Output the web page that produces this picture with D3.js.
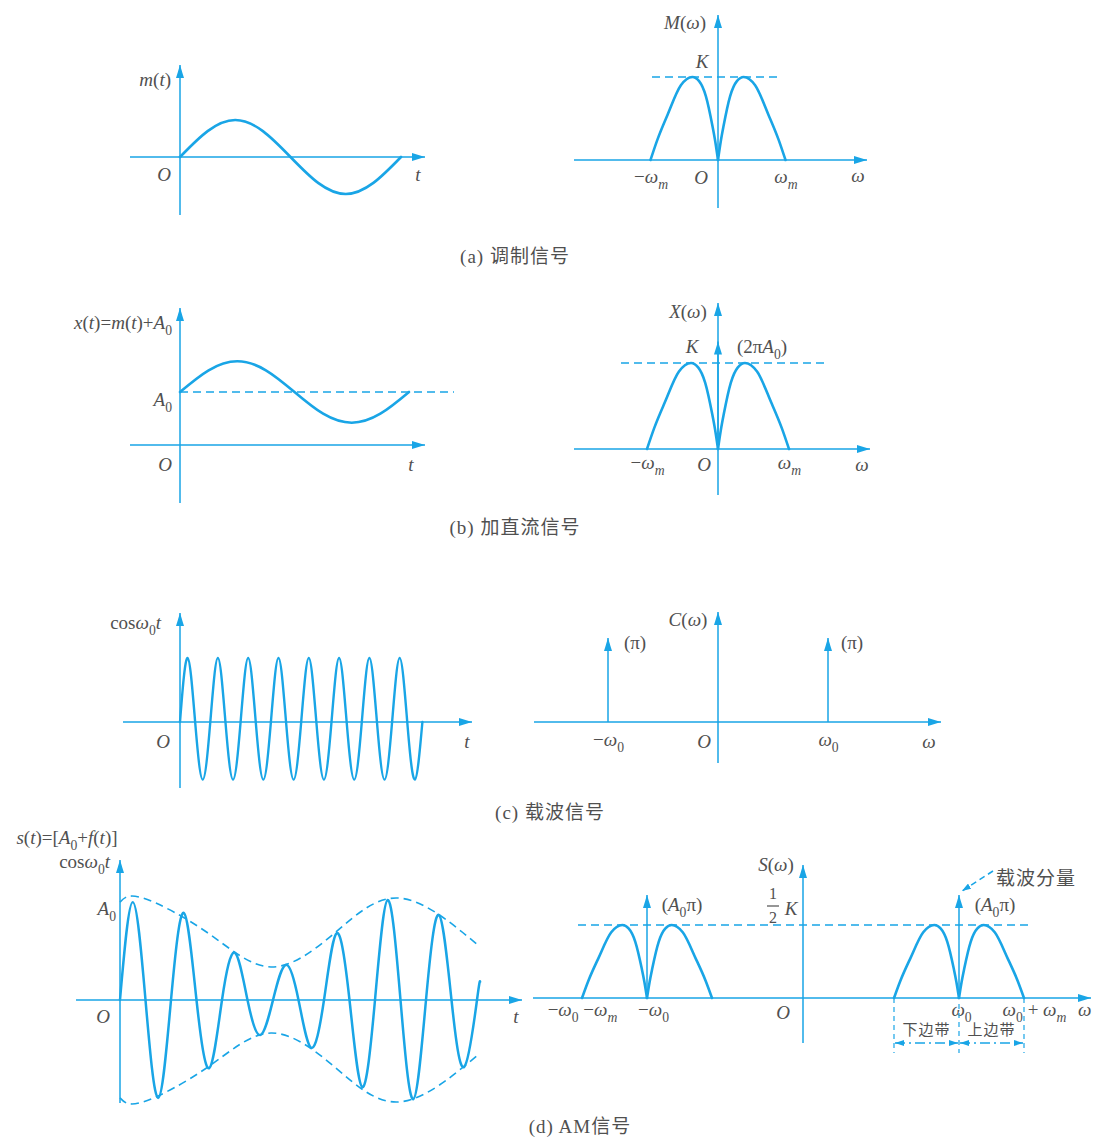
<!DOCTYPE html>
<html>
<head>
<meta charset="utf-8">
<script src="https://cdn.jsdelivr.net/npm/d3@7"></script>
<style>
  body { margin: 0; background: #fff; }
  svg { display: block; }
</style>
</head>
<body>
<svg id="fig" width="1093" height="1137"></svg>
<script>
// ---------------- signal data ----------------
// (a) modulating signal m(t): one period, t in periods, amplitude normalised
const modT = [0, 0.125, 0.25, 0.375, 0.5, 0.625, 0.75, 0.875, 1];
const modV = [0, 0.7, 1, 0.7, 0, -0.7, -1, -0.7, 0];

// (b) x(t) = m(t) + A0, amplitude in units of A0
const dcT = [0, 0.125, 0.25, 0.375, 0.5, 0.625, 0.75, 0.875, 1];
const dcV = [1, 1.41, 1.58, 1.41, 1, 0.59, 0.42, 0.59, 1];

// (c) carrier cos(w0 t): eight cycles, t in carrier periods
const carT = [0, 0.25, 0.5, 0.75, 1, 1.25, 1.5, 1.75, 2, 2.25, 2.5, 2.75, 3, 3.25, 3.5, 3.75,
              4, 4.25, 4.5, 4.75, 5, 5.25, 5.5, 5.75, 6, 6.25, 6.5, 6.75, 7, 7.25, 7.5, 7.75, 8];
const carV = [0, 1, 0, -0.9, 0, 1, 0, -0.9, 0, 1, 0, -0.9, 0, 1, 0, -0.9,
              0, 1, 0, -0.9, 0, 1, 0, -0.9, 0, 1, 0, -0.9, 0, 1, 0, -0.9, 0];

// (d) AM waveform: t in carrier periods, amplitude in units of A0
const amT = [0, 0.25, 0.5, 0.75, 1, 1.25, 1.5, 1.75, 2, 2.25, 2.5, 2.75, 3, 3.25, 3.5,
             3.75, 4, 4.25, 4.5, 4.75, 5, 5.25, 5.5, 5.75, 6, 6.25, 6.5, 6.75, 7, 7.06];
const amV = [0, 1.45, 0, -1.45, 0, 1.29, 0, -1.01, 0, 0.70, 0, -0.52, 0, 0.52, 0,
             -0.71, 0, 0.99, 0, -1.29, 0, 1.48, 0, -1.47, 0, 1.26, 0, -0.99, 0, 0.27];
// envelope A0 + m(t)
const envT = [0, 0.45, 1.71, 2.96, 4.22, 5.47, 6.72, 7.04];
const envV = [1.45, 1.51, 1.0, 0.49, 1.0, 1.51, 1.0, 0.80];

// one side of the baseband spectrum: w in units of wm, magnitude in units of its peak
const humpW = [0, 0.04, 0.08, 0.18, 0.28, 0.38, 0.55, 0.75, 0.9, 1];
const humpM = [0, 0.22, 0.4, 0.77, 0.95, 1, 0.9, 0.54, 0.24, 0];

// impulses
const dcImpulseH = 1.25;          // (2πA0) at w = 0, relative to K
const carImpulseW = [-1, 1];      // carrier lines at ±w0
const amCarrierW = 2.4;           // w0 expressed in units of wm
const amImpulseH = 1.41;          // (A0π), relative to K/2

// tick labels
const ticksAB = [-1, 1];
const labelsAB = ["−ω_m", "ω_m"];
const ticksC = [-1, 1];
const labelsC = ["−ω_0", "ω_0"];
const ticksD = [-3.4, -2.4, 2.4, 3.4];
const labelsD = ["−ω_0 −ω_m", "−ω_0", "ω_0", "ω_0 + ω_m"];
const captions = ["(a) 调制信号", "(b) 加直流信号", "(c) 载波信号", "(d) AM信号"];

// ---------------- drawing ----------------
const BLUE = "#19a5e6";
const INK = "#505050";
const FS = 19;
const SERIF = "'Liberation Serif','Times New Roman',serif";
const CJK = "'Liberation Serif','Noto Sans CJK SC',sans-serif";

const svg = d3.select("#fig");
const defs = svg.append("defs");
function marker(id, len, wid) {
  defs.append("marker").attr("id", id)
    .attr("viewBox", `0 0 ${len} ${wid}`).attr("refX", len).attr("refY", wid / 2)
    .attr("markerWidth", len).attr("markerHeight", wid)
    .attr("markerUnits", "userSpaceOnUse").attr("orient", "auto-start-reverse")
    .append("path").attr("d", `M0,0L${len},${wid / 2}L0,${wid}Z`).attr("fill", BLUE);
}
marker("arr", 13, 8);
marker("arrS", 9, 6);

function seg(g, x1, y1, x2, y2, w = 1.5) {
  return g.append("line").attr("x1", x1).attr("y1", y1).attr("x2", x2).attr("y2", y2)
    .attr("stroke", BLUE).attr("stroke-width", w);
}
function axes(g, hx0, hx1, hy, vx, vyBottom, vyTop) {
  seg(g, hx0, hy, hx1, hy).attr("marker-end", "url(#arr)");
  seg(g, vx, vyBottom, vx, vyTop).attr("marker-end", "url(#arr)");
}
function dashed(g, x1, x2, yy) {
  return seg(g, x1, yy, x2, yy).attr("stroke-dasharray", "8,5");
}
function curve(g, xs, ys, x, y, kind, w = 2.6) {
  const pts = xs.map((t, i) => [t, ys[i]]);
  return g.append("path")
    .attr("d", d3.line().x(d => x(d[0])).y(d => y(d[1])).curve(kind)(pts))
    .attr("fill", "none").attr("stroke", BLUE).attr("stroke-width", w)
    .attr("stroke-linejoin", "round").attr("stroke-linecap", "round");
}
function humps(g, x, y, center) {
  [1, -1].forEach(sgn => {
    const ws = humpW.map(w => center + sgn * w);
    const ms = humpM.slice();
    if (sgn < 0) { ws.reverse(); ms.reverse(); }
    curve(g, ws, ms, x, y, d3.curveMonotoneX);
  });
}

// math-style text: letters italic, "cos"/digits/symbols upright, _x or _{..} subscript
function rich(textSel, str, size) {
  const toks = str.match(/_\{[^}]*\}|_.|cos|./gu);
  let shift = 0;
  toks.forEach(tok => {
    let s = tok, sub = false;
    if (tok[0] === "_") { sub = true; s = tok[1] === "{" ? tok.slice(2, -1) : tok.slice(1); }
    const italic = s !== "cos" && /[A-Za-zω]/.test(s);
    const ts = textSel.append("tspan").text(s).attr("font-style", italic ? "italic" : "normal");
    const target = sub ? size * 0.28 : 0;
    if (target !== shift) { ts.attr("dy", target - shift); shift = target; }
    if (sub) ts.attr("font-size", size * 0.72);
  });
}
function label(g, x, yc, str, anchor = "middle", size = FS) {
  const t = g.append("text").attr("x", x).attr("y", yc + size * 0.34)
    .attr("text-anchor", anchor).attr("font-family", SERIF)
    .attr("font-size", size).attr("fill", INK);
  rich(t, str, size);
  return t;
}
function cjk(g, x, yc, str, anchor = "middle", size = 19) {
  return g.append("text").attr("x", x).attr("y", yc + size * 0.36)
    .attr("text-anchor", anchor).attr("font-family", CJK)
    .attr("font-size", size).attr("letter-spacing", 1).attr("fill", INK).text(str);
}
function tickLabels(g, x, yPix, values, labels, pad, dxs = []) {
  const ax = d3.axisBottom(x).tickValues(values).tickSize(0).tickPadding(pad).tickFormat(() => "");
  const ga = g.append("g").attr("transform", `translate(0,${yPix})`).call(ax);
  ga.select(".domain").remove();
  ga.selectAll(".tick text").each(function (d, i) {
    const t = d3.select(this).text(null)
      .attr("fill", INK).attr("font-size", FS).attr("font-family", SERIF);
    if (dxs[i]) t.attr("dx", dxs[i]);
    rich(t, labels[i], FS);
  });
}

// ----- (a) modulating signal -----
{
  const g = svg.append("g");
  const x = d3.scaleLinear().domain([0, 1]).range([180, 401]);
  const y = d3.scaleLinear().domain([-1, 1]).range([194, 120]);
  axes(g, 130, 425, y(0), x(0), 215, 65);
  curve(g, modT, modV, x, y, d3.curveNatural);
  label(g, 171, 80, "m(t)", "end");
  label(g, 164, 175, "O");
  label(g, 418, 175, "t");
}
{
  const g = svg.append("g");
  const x = d3.scaleLinear().domain([0, 1]).range([718, 785.5]);
  const y = d3.scaleLinear().domain([0, 1]).range([160, 77]);
  axes(g, 574, 867, y(0), x(0), 208, 15);
  dashed(g, 652, 781, y(1));
  humps(g, x, y, 0);
  tickLabels(g, x, y(0), ticksAB, labelsAB, 10);
  label(g, 701, 178, "O");
  label(g, 858, 176, "ω");
  label(g, 685, 23, "M(ω)");
  label(g, 702, 62, "K");
}
cjk(svg, 515, 256, captions[0]);

// ----- (b) DC shifted signal -----
{
  const g = svg.append("g");
  const x = d3.scaleLinear().domain([0, 1]).range([180, 409]);
  const y = d3.scaleLinear().domain([0, 1]).range([445, 392]);
  axes(g, 130, 425, y(0), x(0), 503, 308);
  dashed(g, x(0), 454, y(1));
  curve(g, dcT, dcV, x, y, d3.curveNatural);
  label(g, 172, 323, "x(t)=m(t)+A_0", "end");
  label(g, 172, 400, "A_0", "end");
  label(g, 165, 465, "O");
  label(g, 411, 465, "t");
}
{
  const g = svg.append("g");
  const x = d3.scaleLinear().domain([0, 1]).range([718, 789]);
  const y = d3.scaleLinear().domain([0, 1]).range([449, 363]);
  axes(g, 574, 870, y(0), x(0), 495, 303);
  dashed(g, 621, 825, y(1));
  seg(g, x(0), y(0), x(0), y(dcImpulseH)).attr("marker-end", "url(#arr)");
  humps(g, x, y, 0);
  tickLabels(g, x, y(0), ticksAB, labelsAB, 7);
  label(g, 704, 465, "O");
  label(g, 862, 465, "ω");
  label(g, 688, 312, "X(ω)");
  label(g, 692, 347, "K");
  label(g, 762, 347, "(2πA_0)");
}
cjk(svg, 515, 527, captions[1]);

// ----- (c) carrier -----
{
  const g = svg.append("g");
  const x = d3.scaleLinear().domain([0, 1]).range([180, 210.3]);
  const y = d3.scaleLinear().domain([0, 1]).range([722, 658]);
  axes(g, 123, 472, y(0), x(0), 788, 613);
  curve(g, carT, carV, x, y, d3.curveNatural, 2.4);
  label(g, 161, 623, "cosω_0t", "end");
  label(g, 163, 742, "O");
  label(g, 467, 742, "t");
}
{
  const g = svg.append("g");
  const x = d3.scaleLinear().domain([0, 1]).range([718, 828]);
  const y = d3.scaleLinear().domain([0, 1]).range([722, 638]);
  axes(g, 534, 941, y(0), x(0), 763, 612);
  carImpulseW.forEach(w => seg(g, x(w), y(0), x(w), y(1)).attr("marker-end", "url(#arr)"));
  tickLabels(g, x, y(0), ticksC, labelsC, 11);
  label(g, 704, 742, "O");
  label(g, 929, 742, "ω");
  label(g, 688, 620, "C(ω)");
  label(g, 635, 643, "(π)");
  label(g, 852, 643, "(π)");
}
cjk(svg, 550, 812, captions[2]);

// ----- (d) AM signal -----
{
  const g = svg.append("g");
  const x = d3.scaleLinear().domain([0, 1]).range([120, 171]);
  const y = d3.scaleLinear().domain([0, 1]).range([1000, 932.5]);
  axes(g, 76, 522, y(0), x(0), 1103, 860);
  const envLine = d3.line().x(d => x(d[0])).y(d => y(d[1])).curve(d3.curveNatural);
  [1, -1].forEach(s => {
    g.append("path").attr("d", envLine(envT.map((t, i) => [t, s * envV[i]])))
      .attr("fill", "none").attr("stroke", BLUE).attr("stroke-width", 1.6)
      .attr("stroke-dasharray", "8,5");
  });
  curve(g, amT, amV, x, y, d3.curveNatural, 2.5);
  label(g, 67, 838, "s(t)=[A_0+f(t)]");
  label(g, 110, 862, "cosω_0t", "end");
  label(g, 116, 909, "A_0", "end");
  label(g, 103, 1017, "O");
  label(g, 516, 1017, "t");
}
{
  const g = svg.append("g");
  const x = d3.scaleLinear().domain([0, 1]).range([803, 868]);
  const y = d3.scaleLinear().domain([0, 1]).range([998, 925]);
  axes(g, 533, 1091, y(0), x(0), 1043, 865);
  dashed(g, 578, 1032, y(1));
  [-amCarrierW, amCarrierW].forEach(w => {
    seg(g, x(w), y(0), x(w), y(amImpulseH)).attr("marker-end", "url(#arr)");
    humps(g, x, y, w);
  });
  tickLabels(g, x, y(0), ticksD, labelsD, 5, [0, 6, 2, 10]);
  label(g, 783, 1013, "O");
  label(g, 1078, 1010, "ω", "start");
  label(g, 776, 865, "S(ω)");
  label(g, 682, 905, "(A_0π)");
  label(g, 995, 905, "(A_0π)");
  // 1/2 K
  label(g, 773, 894, "1", "middle", 16);
  seg(g, 767, 906, 779, 906, 1.2).attr("stroke", INK);
  label(g, 773, 918, "2", "middle", 16);
  label(g, 791, 909, "K");
  // carrier-component pointer
  seg(g, 993, 871, 962, 891, 1.5).attr("stroke-dasharray", "6,4").attr("marker-end", "url(#arrS)");
  cjk(g, 996, 878, "载波分量", "start", 19);
  // lower / upper sideband extents
  const lo = x(amCarrierW - 1), mid = x(amCarrierW), hi = x(amCarrierW + 1);
  [lo, hi].forEach(px => seg(g, px, y(0), px, 1053, 1.2).attr("stroke-dasharray", "5,4"));
  seg(g, mid, 1004, mid, 1053, 1.2).attr("stroke-dasharray", "5,4");
  [[lo, mid], [mid, hi]].forEach(([a, b]) => {
    seg(g, a + 1, 1043, b - 1, 1043, 1.3).attr("stroke-dasharray", "10,4,2,4")
      .attr("marker-start", "url(#arrS)").attr("marker-end", "url(#arrS)");
  });
  cjk(g, (lo + mid) / 2, 1030, "下边带", "middle", 15);
  cjk(g, (mid + hi) / 2, 1030, "上边带", "middle", 15);
}
cjk(svg, 580, 1126, captions[3]);
</script>
</body>
</html>
